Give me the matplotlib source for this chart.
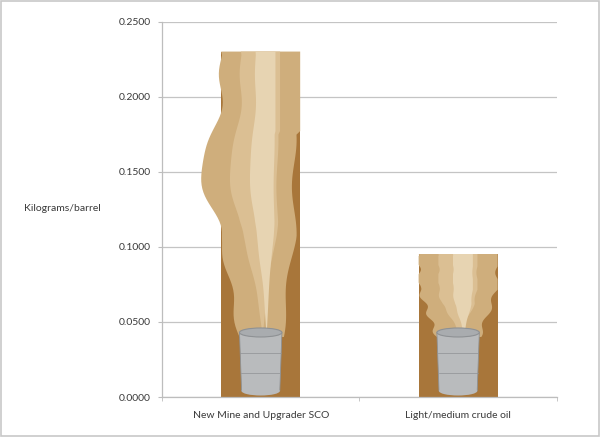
import numpy as np
import matplotlib
matplotlib.use("Agg")
import matplotlib.pyplot as plt
from matplotlib.patches import Rectangle, Ellipse, Polygon

# chart data
categories = ["New Mine and Upgrader SCO", "Light/medium crude oil"]
values = [0.2302, 0.0953]
yticks = [0.0, 0.05, 0.10, 0.15, 0.20, 0.25]

plt.rcParams['font.family'] = ['Lato', 'DejaVu Sans']

fig = plt.figure(figsize=(6.0, 4.37), dpi=100)
ax = fig.add_axes([0.27, 0.0915, 0.658, 0.8585])

x = np.arange(len(categories))
bar_w = 0.4
brown = "#A8763A"
bars = ax.bar(x, values, width=bar_w, color=brown, zorder=2)

# decoration: smoke rising out of a barrel inside each bar
barrel_w = 0.215
barrel_h = 0.040
hb = bar_w / 2
for xi, v in zip(x, values):
    t = np.linspace(0, 1, 80)
    y0 = 0.040
    ys = y0 + t * (v - y0)
    big = v > 0.2
    grow = np.clip(t / 0.35, 0, 1) if big else np.clip(t / 0.6, 0, 1)
    lw_ = barrel_w / 2 + (hb - barrel_w / 2) * grow + 0.012 * np.sin(t * 29)
    if big:
        lw_ = lw_ + 0.11 * np.exp(-((t - 0.58) / 0.13) ** 2)
        rw_ = barrel_w / 2 + (hb * 0.85 - barrel_w / 2) * grow + 0.012 * np.sin(t * 19 + 1)
        rw_ = np.where(t > 0.72, hb, rw_)
    else:
        lw_ = np.minimum(lw_, hb)
        rw_ = barrel_w / 2 + (hb - barrel_w / 2) * grow + 0.012 * np.sin(t * 21 + 1)
    rw_ = np.minimum(rw_, hb)
    lw_[-1] = max(lw_[-1], hb)
    rw_[-1] = hb
    left, right = xi - lw_, xi + rw_
    pts = np.vstack([np.column_stack([left, ys]), np.column_stack([right[::-1], ys[::-1]])])
    ax.add_patch(Polygon(pts, closed=True, facecolor="#CFAE7C", edgecolor="none", zorder=3))
    # lighter patches inside the smoke
    for frac, off, col in ((0.55, 0.01, "#DBBF93"), (0.28, 0.03, "#E7D4B2")):
        taper = np.clip(t / 0.4, 0, 1)
        l2 = xi + off - lw_ * frac * taper
        r2 = xi + off + rw_ * frac * 0.8 * taper
        p2 = np.vstack([np.column_stack([l2, ys]), np.column_stack([r2[::-1], ys[::-1]])])
        ax.add_patch(Polygon(p2, closed=True, facecolor=col, edgecolor="none", zorder=3))
    # barrel
    ax.add_patch(Polygon([(xi - barrel_w / 2, 0.043), (xi + barrel_w / 2, 0.043),
                          (xi + barrel_w / 2 * 0.9, 0.004), (xi - barrel_w / 2 * 0.9, 0.004)],
                         closed=True, facecolor="#B9BBBD", edgecolor="#8E9194", lw=0.6, zorder=4))
    ax.add_patch(Ellipse((xi, 0.004), barrel_w * 0.9, 0.006, facecolor="#B9BBBD", edgecolor="none", zorder=4))
    ax.add_patch(Ellipse((xi, 0.043), barrel_w, 0.006, facecolor="#A9ACAF", edgecolor="#8E9194",
                         lw=0.8, zorder=5))
    for hy, k in ((0.016, 0.92), (0.029, 0.96)):
        ax.plot([xi - barrel_w / 2 * k, xi + barrel_w / 2 * k], [hy, hy], color="#8E9194", lw=0.5, zorder=5)

ax.set_xlim(-0.5, len(categories) - 0.5)
ax.set_ylim(0, 0.25)
ax.set_yticks(yticks)
ax.set_yticklabels([f"{t:.4f}" for t in yticks])
ax.set_xticks(x)
ax.set_xticklabels(categories)
ax.set_xticks([-0.5, 0.5, 1.5], minor=True)

ax.grid(axis="y", color="#C4C4C4", lw=0.9, zorder=0)
ax.set_axisbelow(True)
for s in ("top", "right"):
    ax.spines[s].set_visible(False)
for s in ("left", "bottom"):
    ax.spines[s].set_color("#BDBDBD")
    ax.spines[s].set_linewidth(0.9)
ax.tick_params(axis="y", length=3, color="#BDBDBD", labelsize=7.5, labelcolor="#3A3A3A", pad=5)
ax.tick_params(axis="x", which="major", length=0, labelsize=7.5, labelcolor="#3A3A3A", pad=10)
ax.tick_params(axis="x", which="minor", length=3, color="#BDBDBD")

fig.text(0.04, 0.523, "Kilograms/barrel", fontsize=7.5, color="#3A3A3A", va="center", ha="left")

# light frame around the whole picture
fig.add_artist(Rectangle((0.002, 0.003), 0.996, 0.994, transform=fig.transFigure,
                         fill=False, edgecolor="#C8C8C8", lw=1.2))

fig.savefig("out.png", dpi=100)
